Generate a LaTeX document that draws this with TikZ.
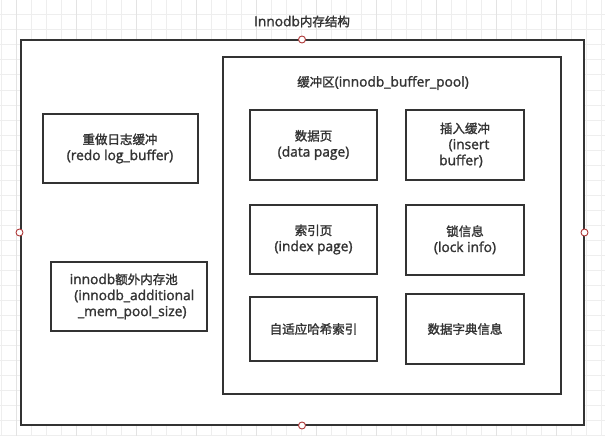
\documentclass[tikz,border=0pt]{standalone}
\usepackage{fontspec}
\setmainfont{Open Sans}[FakeBold=1.6, Scale=1.1]
\newfontfamily\cjk{Noto Sans CJK SC}[FakeBold=1.6]
\definecolor{ln}{HTML}{333333}
\definecolor{txt}{HTML}{333333}
\definecolor{portc}{HTML}{B03A3A}
\definecolor{gridc}{HTML}{EEEEEE}
\definecolor{gridm}{HTML}{E3E3E3}
\begin{document}
\begin{tikzpicture}[x=1pt,y=-1pt,
  every node/.style={text=txt, font=\fontsize{12.5}{16}\selectfont},
  box/.style={draw=ln, line width=2pt, fill=white, inner sep=0pt, align=center},
  port/.style={circle, draw=portc, fill=white, line width=0.9pt, minimum size=7pt, inner sep=0pt},
  lbl/.style={inner sep=0pt}]
\useasboundingbox[fill=white] (0,0) rectangle (605,436);
% background grid
\foreach \i in {0,...,40} \draw[gridc, line width=1pt] ({1.7+15*\i},0) -- ({1.7+15*\i},436);
\foreach \j in {0,...,29} \draw[gridc, line width=1pt] (0,{15*\j}) -- (605,{15*\j});
\foreach \i in {0,...,9} \draw[gridm, line width=1pt] ({16.7+60*\i},0) -- ({16.7+60*\i},436);
% containers
\node[box, minimum width=563pt, minimum height=384pt] (outer) at (302,232.5) {};
\node[lbl] (title) at (302,21.5) {Innodb{\cjk 内存结构}};
\node[box, minimum width=338.5pt, minimum height=336.5pt] (pool) at (391.75,225.75) {};
\node[lbl] (pooltitle) at (383,83) {{\cjk 缓冲区}(innodb\_buffer\_pool)};
% left boxes
\node[box, minimum width=155pt, minimum height=69pt] (redo) at (120,148.5) {{\cjk 重做日志缓冲}\\(redo log\_buffer)};
\node[box, minimum width=155.5pt, minimum height=69pt] (extra) at (128.75,296.5)
  {innodb{\cjk 额外内存池}\hspace*{10pt}\\\hspace*{11pt}(innodb\_additional\\\hspace*{7pt}\_mem\_pool\_size)};
% pool boxes
\node[box, minimum width=127pt, minimum height=70pt] (data) at (313.5,145) {{\cjk 数据页}\\(data page)};
\node[box, minimum width=118pt, minimum height=70pt] (insert) at (465,145) {{\cjk 插入缓冲}\\\hspace*{8pt}(insert\\buffer)\hspace*{8pt}};
\node[box, minimum width=127pt, minimum height=69pt] (index) at (313.5,239.5) {{\cjk 索引页}\\(index page)};
\node[box, minimum width=118pt, minimum height=69.5pt] (lock) at (465,239.75) {{\cjk 锁信息}\\(lock info)};
\node[box, minimum width=127pt, minimum height=64pt] (hash) at (313.5,329) {{\cjk 自适应哈希索引}};
\node[box, minimum width=118pt, minimum height=70pt] (dict) at (465,329) {{\cjk 数据字典信息}};
% ports on the outer frame
\node[port] (pn) at (outer.north) {};
\node[port] (pw) at (outer.west) {};
\node[port] (pe) at (outer.east) {};
\node[port] (ps) at (outer.south) {};
\end{tikzpicture}
\end{document}
